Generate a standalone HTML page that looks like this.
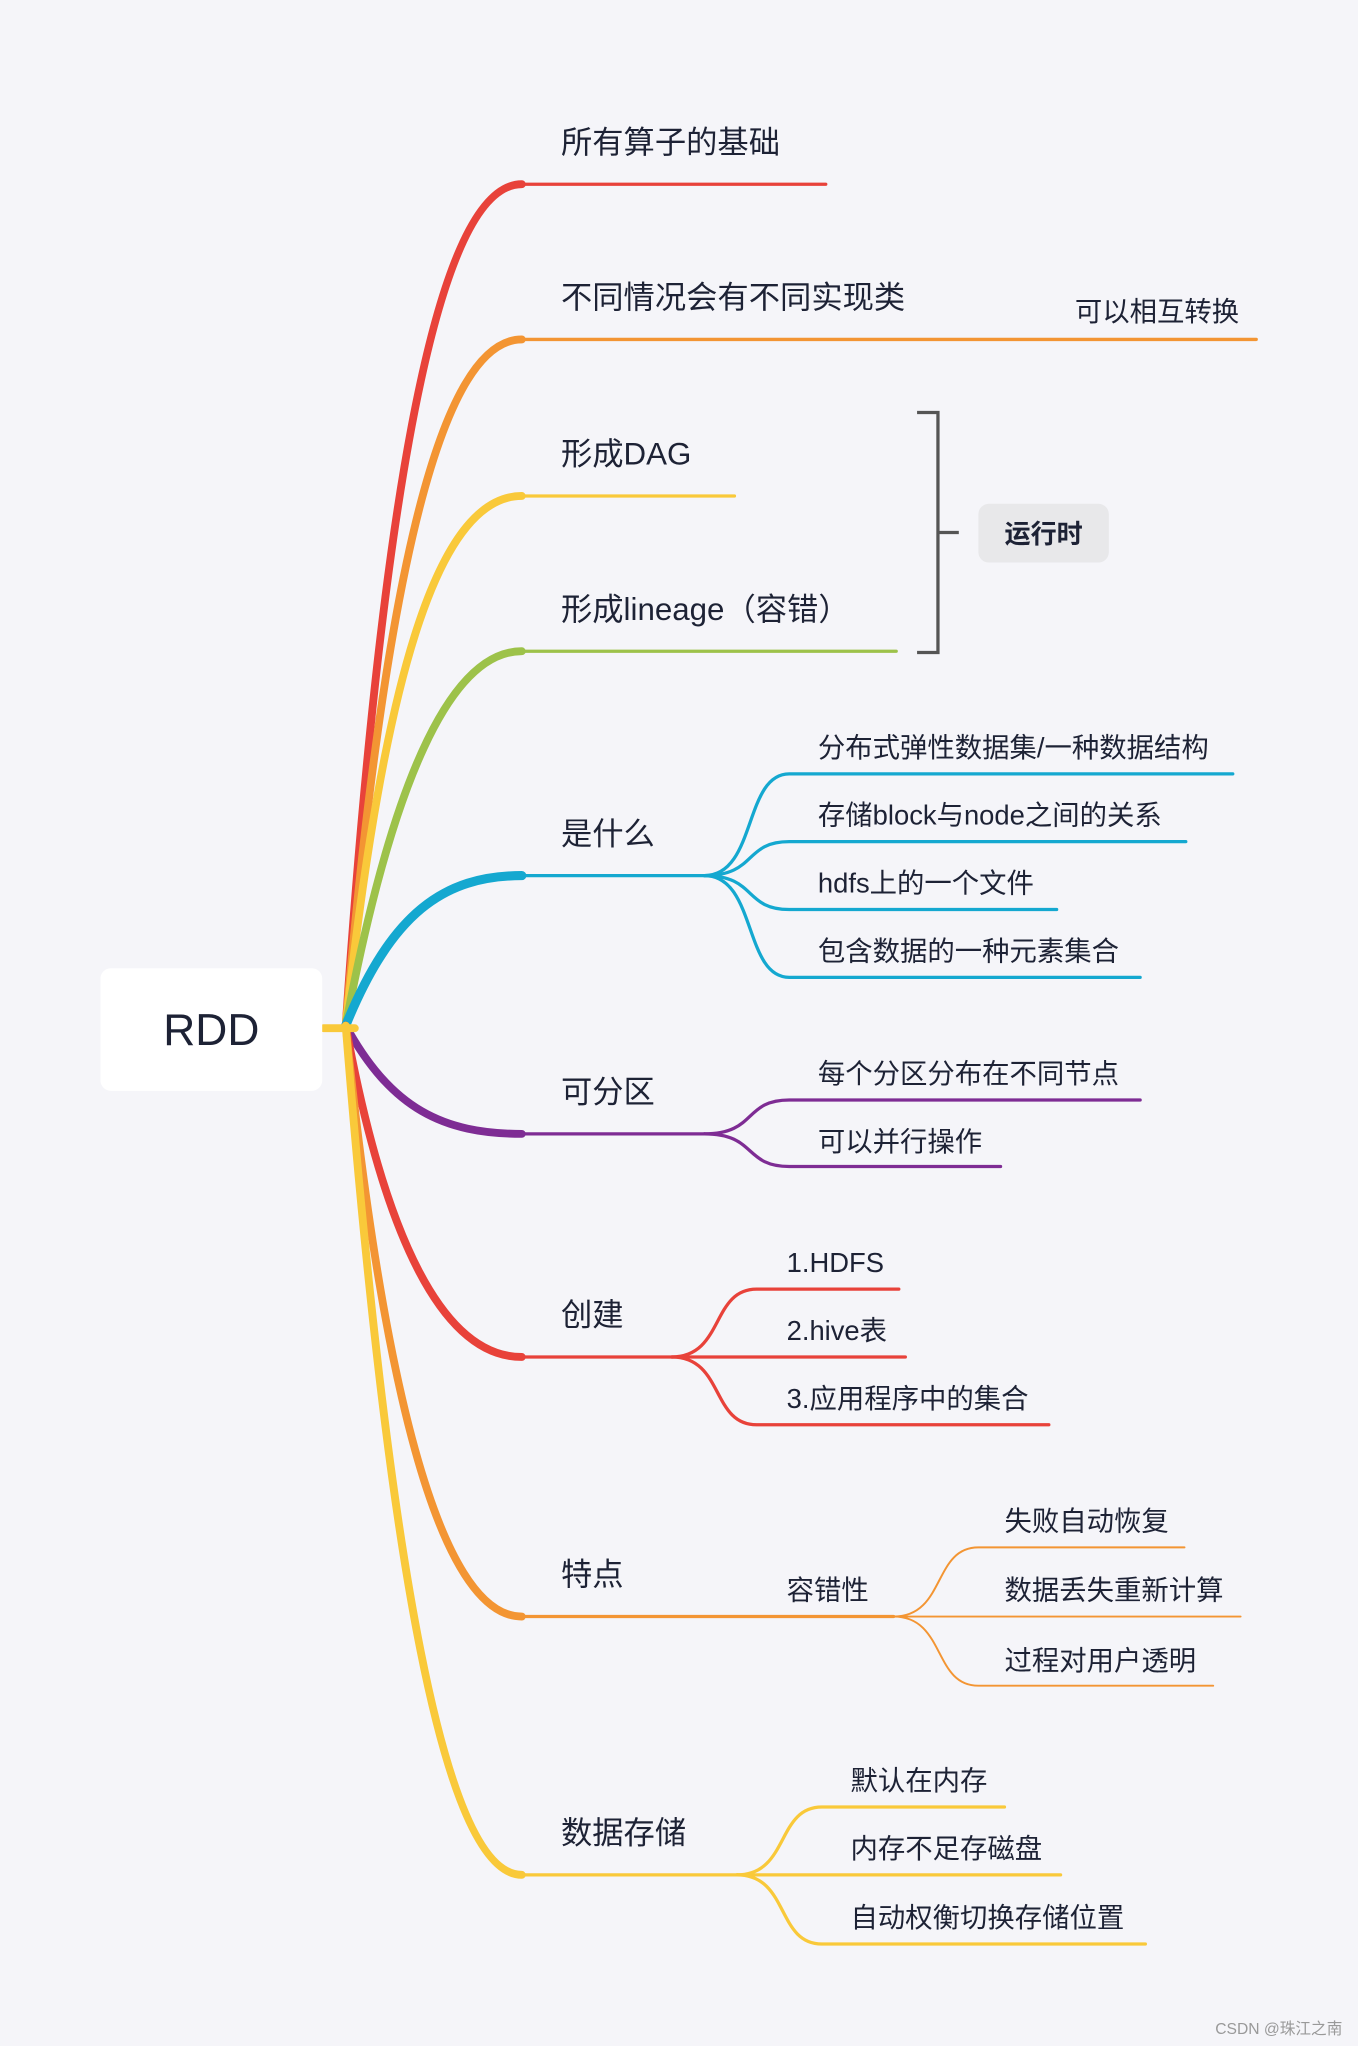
<!DOCTYPE html>
<html><head><meta charset="utf-8"><style>
html,body{margin:0;padding:0;background:#f5f5f9;}
svg{display:block;}
text{font-family:"Liberation Sans","Noto Sans CJK SC",sans-serif;fill:#1d2235;}
</style></head><body>
<svg width="1358" height="2046" viewBox="0 0 1041 1568" xmlns="http://www.w3.org/2000/svg">
<rect width="1041" height="1568" fill="#f5f5f9"/>
<g fill="none" stroke-linecap="round">
<path d="M265 786 C290 420 330 141 400 141" stroke="#e8423a" stroke-width="6"/>
<path d="M265 786 C293 460 335 260 400 260" stroke="#f39533" stroke-width="6"/>
<path d="M265 786 C296 500 340 380 400 380" stroke="#f9c93a" stroke-width="6"/>
<path d="M265 786 C300 600 345 499 400 499" stroke="#9dc24a" stroke-width="6"/>
<path d="M265 786 C300 700 340 671 400 671" stroke="#14a8d0" stroke-width="7"/>
<path d="M265 786 C300 850 340 869 400 869" stroke="#7e2c94" stroke-width="6"/>
<path d="M265 786 C295 950 340 1040 400 1040" stroke="#e8423a" stroke-width="6"/>
<path d="M265 786 C292 1050 335 1239 400 1239" stroke="#f39533" stroke-width="6"/>
<path d="M265 786 C290 1100 330 1437 400 1437" stroke="#f9c93a" stroke-width="6"/>
<path d="M248 788 L272 788" stroke="#f9c93a" stroke-width="6"/>
<line x1="400" y1="141" x2="633" y2="141" stroke="#e8423a" stroke-width="2.5"/>
<line x1="400" y1="260" x2="963" y2="260" stroke="#f39533" stroke-width="2.5"/>
<line x1="400" y1="380" x2="563" y2="380" stroke="#f9c93a" stroke-width="2.5"/>
<line x1="400" y1="499" x2="687" y2="499" stroke="#9dc24a" stroke-width="2.5"/>
<line x1="400" y1="671" x2="540" y2="671" stroke="#14a8d0" stroke-width="2.5"/>
<line x1="400" y1="869" x2="540" y2="869" stroke="#7e2c94" stroke-width="2.5"/>
<line x1="400" y1="1040" x2="515" y2="1040" stroke="#e8423a" stroke-width="2.5"/>
<line x1="400" y1="1239" x2="685" y2="1239" stroke="#f39533" stroke-width="2.5"/>
<line x1="400" y1="1437" x2="565" y2="1437" stroke="#f9c93a" stroke-width="2.5"/>
<g stroke="#14a8d0" stroke-width="2.5">
<path d="M540 671 C580 671 570 593 605 593 L945 593"/>
<path d="M540 671 C580 671 570 645 605 645 L909 645"/>
<path d="M540 671 C580 671 570 697 605 697 L810 697"/>
<path d="M540 671 C580 671 570 749 605 749 L874 749"/>
</g>
<g stroke="#7e2c94" stroke-width="2.5">
<path d="M540 869 C580 869 570 843 605 843 L874 843"/>
<path d="M540 869 C580 869 570 894 605 894 L767 894"/>
</g>
<g stroke="#e8423a" stroke-width="2.5">
<path d="M515 1040 C555 1040 545 988 580 988 L689 988"/>
<path d="M515 1040 L694 1040"/>
<path d="M515 1040 C555 1040 545 1092 580 1092 L804 1092"/>
</g>
<g stroke="#f39533" stroke-width="1.5">
<path d="M685 1239 C725 1239 715 1186 750 1186 L908 1186"/>
<path d="M685 1239 L951 1239"/>
<path d="M685 1239 C725 1239 715 1292 750 1292 L930 1292"/>
</g>
<g stroke="#f9c93a" stroke-width="2.5">
<path d="M565 1437 C605 1437 595 1385 630 1385 L770 1385"/>
<path d="M565 1437 L813 1437"/>
<path d="M565 1437 C605 1437 595 1490 630 1490 L878 1490"/>
</g>
<path d="M703 316 L719 316 L719 500 L703 500 M719 408 L735 408" stroke="#555" stroke-width="2.5" stroke-linecap="butt"/>
</g>
<rect x="77" y="742" width="170" height="94" rx="8" fill="#fff"/>
<text x="162" y="801" font-size="34" text-anchor="middle" fill="#000">RDD</text>
<rect x="750" y="386" width="100" height="45" rx="8" fill="#e8e8ea"/>
<text x="800" y="416" font-size="20" font-weight="bold" text-anchor="middle">运行时</text>
<g font-size="24">
<text x="430" y="117">所有算子的基础</text>
<text x="430" y="236">不同情况会有不同实现类</text>
<text x="430" y="356">形成DAG</text>
<text x="430" y="475">形成lineage（容错）</text>
<text x="430" y="647">是什么</text>
<text x="430" y="845">可分区</text>
<text x="430" y="1016">创建</text>
<text x="430" y="1215">特点</text>
<text x="430" y="1413">数据存储</text>
</g>
<g font-size="21">
<text x="824" y="246">可以相互转换</text>
<text x="627" y="580">分布式弹性数据集/一种数据结构</text>
<text x="627" y="632">存储block与node之间的关系</text>
<text x="627" y="684">hdfs上的一个文件</text>
<text x="627" y="736">包含数据的一种元素集合</text>
<text x="627" y="830">每个分区分布在不同节点</text>
<text x="627" y="882">可以并行操作</text>
<text x="603" y="975">1.HDFS</text>
<text x="603" y="1027">2.hive表</text>
<text x="603" y="1079">3.应用程序中的集合</text>
<text x="603" y="1226">容错性</text>
<text x="770" y="1173">失败自动恢复</text>
<text x="770" y="1226">数据丢失重新计算</text>
<text x="770" y="1280">过程对用户透明</text>
<text x="652" y="1372">默认在内存</text>
<text x="652" y="1424">内存不足存磁盘</text>
<text x="652" y="1477">自动权衡切换存储位置</text>
</g>
<text x="1029" y="1559" font-size="12" text-anchor="end" style="fill:#999">CSDN @珠江之南</text>
</svg>
</body></html>
